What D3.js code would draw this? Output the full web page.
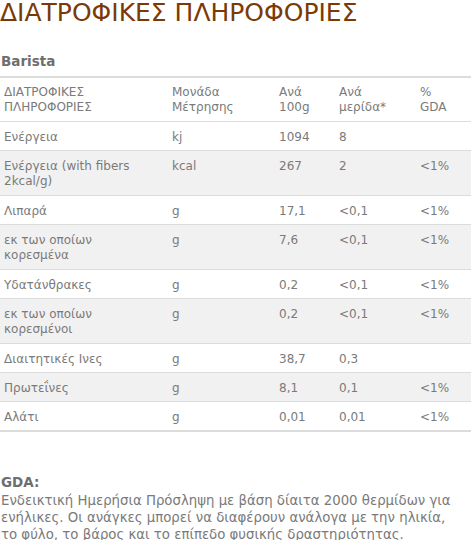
<!DOCTYPE html>
<html><head><meta charset="utf-8">
<script src="https://cdn.jsdelivr.net/npm/d3@7"></script>
<style>body{margin:0;background:#fff}svg{display:block}</style>
</head><body><svg id="t" width="471" height="540"></svg>
<script>
// table contents
const header = [["ΔΙΑΤΡΟΦΙΚΕΣ", "ΠΛΗΡΟΦΟΡΙΕΣ"], ["Μονάδα", "Μέτρησης"], ["Ανά", "100g"], ["Ανά", "μερίδα*"], ["%", "GDA"]];
const nutrients = [["Ενέργεια"], ["Ενέργεια (with fibers", "2kcal/g)"], ["Λιπαρά"], ["εκ των οποίων", "κορεσμένα"],
  ["Υδατάνθρακες"], ["εκ των οποίων", "κορεσμένοι"], ["Διαιτητικές Ινες"], ["Πρωτεΐνες"], ["Αλάτι"]];
const units = ["kj", "kcal", "g", "g", "g", "g", "g", "g", "g"];
const per100 = ["1094", "267", "17,1", "7,6", "0,2", "0,2", "38,7", "8,1", "0,01"];
const perServing = ["8", "2", "<0,1", "<0,1", "<0,1", "<0,1", "0,3", "0,1", "0,01"];
const gda = ["", "<1%", "<1%", "<1%", "<1%", "<1%", "", "<1%", "<1%"];
const footnote = ["Ενδεικτική Ημερήσια Πρόσληψη με βάση δίαιτα 2000 θερμίδων για",
  "ενήλικες. Οι ανάγκες μπορεί να διαφέρουν ανάλογα με την ηλικία,",
  "το φύλο, το βάρος και το επίπεδο φυσικής δραστηριότητας."];

const svg = d3.select('#t');
const font = 'Verdana, "DejaVu Sans", sans-serif';
const colX = [4, 172, 279, 339, 420];
const textCol = '#7a7a7a';

svg.append('text').attr('x', 0).attr('y', 21).attr('font-family', font).attr('font-size', 25)
  .attr('fill', '#7a3a06').text('ΔΙΑΤΡΟΦΙΚΕΣ ΠΛΗΡΟΦΟΡΙΕΣ');
svg.append('text').attr('x', 1).attr('y', 66).attr('font-family', font).attr('font-size', 13.5)
  .attr('font-weight', 'bold').attr('fill', '#6e6e6e').text('Barista');

const rows = [{ cells: header, head: true }].concat(nutrients.map((n, i) => ({
  cells: [n, [units[i]], [per100[i]], [perServing[i]], [gda[i]]], head: false
})));
let y = 77;
rows.forEach((r, i) => {
  const lines = d3.max(r.cells, c => c.length);
  r.y = y; r.h = lines > 1 ? 45 : 29; y += r.h;
  r.fill = (!r.head && i % 2 === 0) ? '#f1f1f1' : '#fff';
});

const g = svg.append('g').selectAll('g').data(rows).join('g');
g.append('rect').attr('x', 0).attr('width', 471).attr('y', d => d.y).attr('height', d => d.h).attr('fill', d => d.fill);
g.append('line').attr('x1', 0).attr('x2', 471).attr('y1', d => d.y + d.h).attr('y2', d => d.y + d.h)
  .attr('stroke', '#dcdcdc').attr('stroke-width', 2);
g.each(function (r) {
  const sel = d3.select(this);
  r.cells.forEach((c, j) => {
    const t = sel.append('text').attr('font-family', font).attr('font-size', 12).attr('fill', textCol);
    c.forEach((s, k) => t.append('tspan').attr('x', colX[j]).attr('y', r.y + 19 + k * 14.5).text(s));
  });
});
svg.append('line').attr('x1', 0).attr('x2', 471).attr('y1', 77).attr('y2', 77).attr('stroke', '#dcdcdc').attr('stroke-width', 2);

svg.append('text').attr('x', 1).attr('y', 487).attr('font-family', font).attr('font-size', 13.5)
  .attr('font-weight', 'bold').attr('fill', '#6e6e6e').text('GDA:');
svg.append('g').selectAll('text').data(footnote).join('text').attr('x', 1).attr('y', (d, i) => 505 + i * 17)
  .attr('font-family', font).attr('font-size', 13.3).attr('fill', textCol).text(d => d);
</script></body></html>
